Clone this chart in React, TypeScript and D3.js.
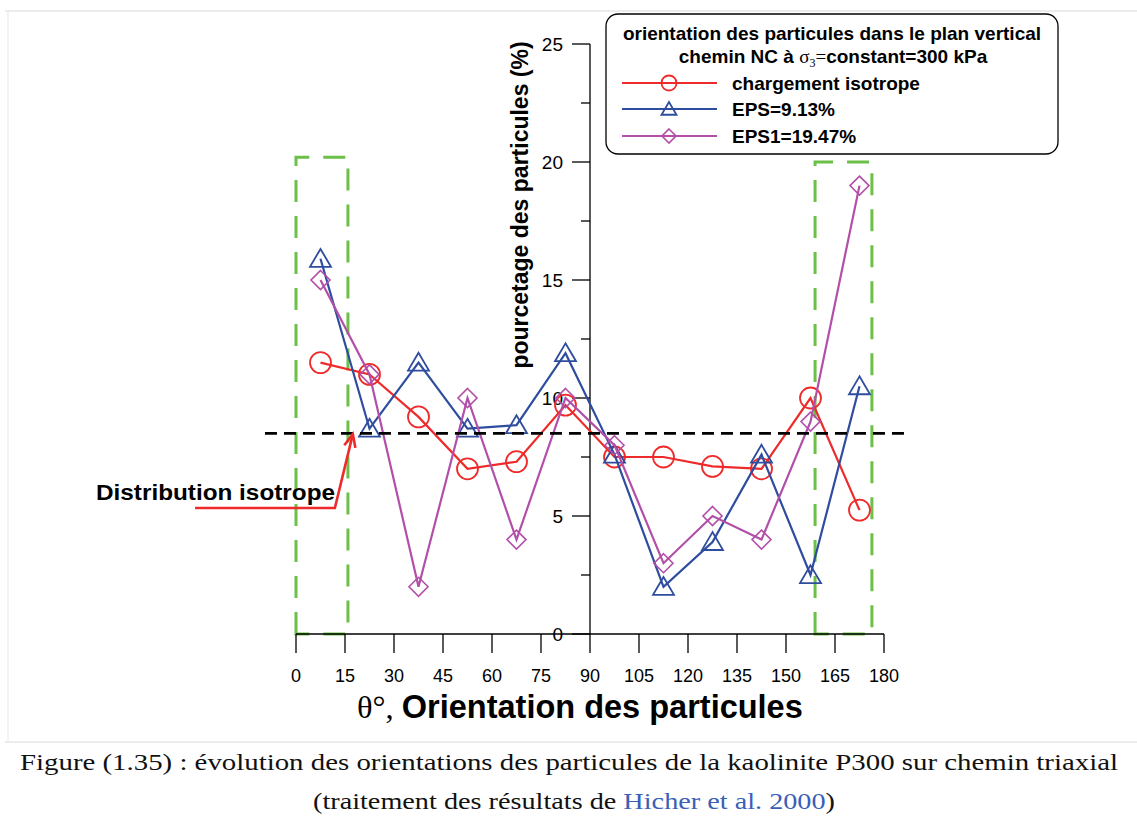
import React from "react";
import * as d3 from "d3";

const angles = [7.5, 22.5, 37.5, 52.5, 67.5, 82.5, 97.5, 112.5, 127.5, 142.5, 157.5, 172.5];
const isoValues = [11.5, 11.0, 9.2, 7.0, 7.3, 9.7, 7.5, 7.5, 7.1, 7.0, 10.0, 5.25];
const eps913Values = [15.9, 8.7, 11.5, 8.7, 8.85, 11.9, 7.6, 2.0, 3.9, 7.6, 2.5, 10.5];
const eps1947Values = [15.0, 11.0, 2.0, 10.0, 4.0, 10.0, 8.0, 3.0, 5.0, 4.0, 9.0, 19.0];
const xTicks = [0, 15, 30, 45, 60, 75, 90, 105, 120, 135, 150, 165, 180];
const yTicksMajor = [0, 5, 10, 15, 20, 25];
const yTicksMinor = [2.5, 7.5, 12.5, 17.5, 22.5];
const isoLevel = 8.5;
const isoLineRange = [-9.5, 186.2];
const leftBox = [0, 15.9, 20.2];
const rightBox = [158.9, 176.3, 20.0];
const arrowPts: [number, number][] = [[-30.9, 5.34], [11.9, 5.34], [17.4, 8.47]];

const RED = "#ee2a2a";
const BLUE = "#2f4d9f";
const PURPLE = "#b24fa9";
const GREEN = "#6cbf47";

const x = d3.scaleLinear().domain([0, 180]).range([296, 884]);
const y = d3.scaleLinear().domain([0, 25]).range([634, 44]);

const SANS = "'Liberation Sans', Arial, sans-serif";
const SERIF = "'Liberation Serif', 'Times New Roman', serif";

function Marker({ kind, cx, cy, s, color }: { kind: string; cx: number; cy: number; s: number; color: string }) {
  if (kind === "circle") return <circle cx={cx} cy={cy} r={s} fill="none" stroke={color} strokeWidth={1.8} />;
  if (kind === "triangle") {
    const h = s * 1.7;
    const w = s * 1.0;
    const p = `${cx},${cy - h * 0.55} ${cx - w},${cy + h * 0.45} ${cx + w},${cy + h * 0.45}`;
    return <polygon points={p} fill="none" stroke={color} strokeWidth={1.8} />;
  }
  const p = `${cx},${cy - s} ${cx + s},${cy} ${cx},${cy + s} ${cx - s},${cy}`;
  return <polygon points={p} fill="none" stroke={color} strokeWidth={1.6} />;
}

const series = [
  { values: isoValues, color: RED, kind: "circle", size: 10.5, label: "chargement isotrope" },
  { values: eps913Values, color: BLUE, kind: "triangle", size: 10.5, label: "EPS=9.13%" },
  { values: eps1947Values, color: PURPLE, kind: "diamond", size: 9.5, label: "EPS1=19.47%" },
];

export default function App() {
  const line = d3.line<number>().x((_, i) => x(angles[i])).y((v) => y(v));
  const arrowLine = d3.line<[number, number]>().x((d) => x(d[0])).y((d) => y(d[1]));
  const tip = arrowPts[2];
  const prev = arrowPts[1];
  const tx = x(tip[0]), ty = y(tip[1]);
  const ang = Math.atan2(ty - y(prev[1]), tx - x(prev[0]));
  const ah = 14, spread = 0.42;
  const a1 = [tx - ah * Math.cos(ang - spread), ty - ah * Math.sin(ang - spread)];
  const a2 = [tx - ah * Math.cos(ang + spread), ty - ah * Math.sin(ang + spread)];

  const box = (b: number[]) =>
    `M${x(b[0])},${y(0)} L${x(b[0])},${y(b[2])} L${x(b[1])},${y(b[2])} L${x(b[1])},${y(0)} Z`;

  return (
    <svg width={1137} height={829} style={{ position: "absolute", left: 0, top: 0, background: "#fff" }}>
      {/* frame */}
      <line x1={5} x2={1137} y1={11} y2={11} stroke="#e6e6e6" strokeWidth={1.5} />
      <line x1={8} x2={8} y1={11} y2={742} stroke="#efefef" strokeWidth={1.5} />
      <line x1={5} x2={1137} y1={742} y2={742} stroke="#e6e6e6" strokeWidth={1.5} />

      {/* green boxes */}
      <path d={box(leftBox)} fill="none" stroke={GREEN} strokeWidth={3} strokeDasharray="22 14" />
      <path d={box(rightBox)} fill="none" stroke={GREEN} strokeWidth={3} strokeDasharray="22 14" />

      {/* axes */}
      <line x1={x(0)} x2={x(180)} y1={y(0)} y2={y(0)} stroke="#000" strokeWidth={1.3} />
      {xTicks.map((t) => (
        <g key={"xt" + t}>
          <line x1={x(t)} x2={x(t)} y1={y(0)} y2={y(0) + 19} stroke="#000" strokeWidth={1.3} />
          <text x={x(t)} y={682} textAnchor="middle" fontFamily={SANS} fontSize={18} fill="#000">
            {t}
          </text>
        </g>
      ))}
      <line x1={x(90)} x2={x(90)} y1={y(0)} y2={y(25)} stroke="#000" strokeWidth={1.3} />
      {yTicksMajor.map((t) => (
        <g key={"yt" + t}>
          <line x1={x(90) - 18} x2={x(90)} y1={y(t)} y2={y(t)} stroke="#000" strokeWidth={1.3} />
          <text x={x(90) - 27} y={y(t) + 7} textAnchor="end" fontFamily={SANS} fontSize={19} fill="#000">
            {t}
          </text>
        </g>
      ))}
      {yTicksMinor.map((t) => (
        <line key={"ym" + t} x1={x(90) - 9} x2={x(90)} y1={y(t)} y2={y(t)} stroke="#000" strokeWidth={1.3} />
      ))}

      {/* y label */}
      <text
        transform={`translate(528,205) rotate(-90)`}
        textAnchor="middle"
        fontFamily={SANS}
        fontWeight="bold"
        fontSize={23}
        fill="#000"
      >
        pourcetage des particules (%)
      </text>

      {/* x label */}
      <text x={357} y={718} fontSize={32.5} fill="#000">
        <tspan fontFamily={SERIF}>θ°, </tspan>
        <tspan fontFamily={SANS} fontWeight="bold">Orientation des particules</tspan>
      </text>

      {/* series */}
      {series.map((s) => (
        <g key={s.label}>
          <path d={line(s.values) || ""} fill="none" stroke={s.color} strokeWidth={2.2} />
          {s.values.map((v, i) => (
            <Marker key={i} kind={s.kind} cx={x(angles[i])} cy={y(v)} s={s.size} color={s.color} />
          ))}
        </g>
      ))}

      {/* isotropic level */}
      <line
        x1={x(isoLineRange[0])}
        x2={x(isoLineRange[1])}
        y1={y(isoLevel)}
        y2={y(isoLevel)}
        stroke="#000"
        strokeWidth={2.6}
        strokeDasharray="12 7"
      />

      {/* annotation */}
      <text x={96} y={500} fontFamily={SANS} fontWeight="bold" fontSize={22} textLength={239} lengthAdjust="spacingAndGlyphs" fill="#000">
        Distribution isotrope
      </text>
      <path d={arrowLine(arrowPts) || ""} fill="none" stroke={RED} strokeWidth={2.6} />
      <path d={`M${a1[0]},${a1[1]} L${tx},${ty} L${a2[0]},${a2[1]}`} fill="none" stroke={RED} strokeWidth={2.6} />

      {/* legend */}
      <rect x={606} y={14} width={452} height={140} rx={12} fill="#fff" stroke="#000" strokeWidth={1.3} />
      <text x={832} y={40} textAnchor="middle" fontFamily={SANS} fontWeight="bold" fontSize={19} fill="#000">
        orientation des particules dans le plan vertical
      </text>
      <text x={833} y={63} textAnchor="middle" fontFamily={SANS} fontWeight="bold" fontSize={19} fill="#000">
        chemin NC à{" "}
        <tspan fontFamily={SERIF} fontWeight="normal" fontSize={19}>σ</tspan>
        <tspan fontFamily={SERIF} fontWeight="normal" fontSize={12} dy={4}>3</tspan>
        <tspan fontFamily={SERIF} fontWeight="normal" fontSize={19} dy={-4}>=</tspan>
        constant=300 kPa
      </text>
      {series.map((s, i) => {
        const ly = [83, 109, 136][i];
        return (
          <g key={"lg" + i}>
            <line x1={622} x2={717} y1={ly} y2={ly} stroke={s.color} strokeWidth={2.2} />
            <Marker kind={s.kind} cx={669} cy={ly} s={s.kind === "circle" ? 7.5 : s.kind === "triangle" ? 7.5 : 7} color={s.color} />
            <text x={732} y={ly + 7} fontFamily={SANS} fontWeight="bold" fontSize={19} fill="#000">
              {s.label}
            </text>
          </g>
        );
      })}

      {/* caption */}
      <text x={569} y={770} textAnchor="middle" fontFamily={SERIF} fontSize={24} textLength={1098} lengthAdjust="spacingAndGlyphs" fill="#111">
        Figure (1.35) : évolution des orientations des particules de la kaolinite P300 sur chemin triaxial
      </text>
      <text x={574} y={809} textAnchor="middle" fontFamily={SERIF} fontSize={24} textLength={522} lengthAdjust="spacingAndGlyphs" fill="#111">
        (traitement des résultats de <tspan fill="#3a5fb8">Hicher et al. 2000</tspan>)
      </text>
    </svg>
  );
}
